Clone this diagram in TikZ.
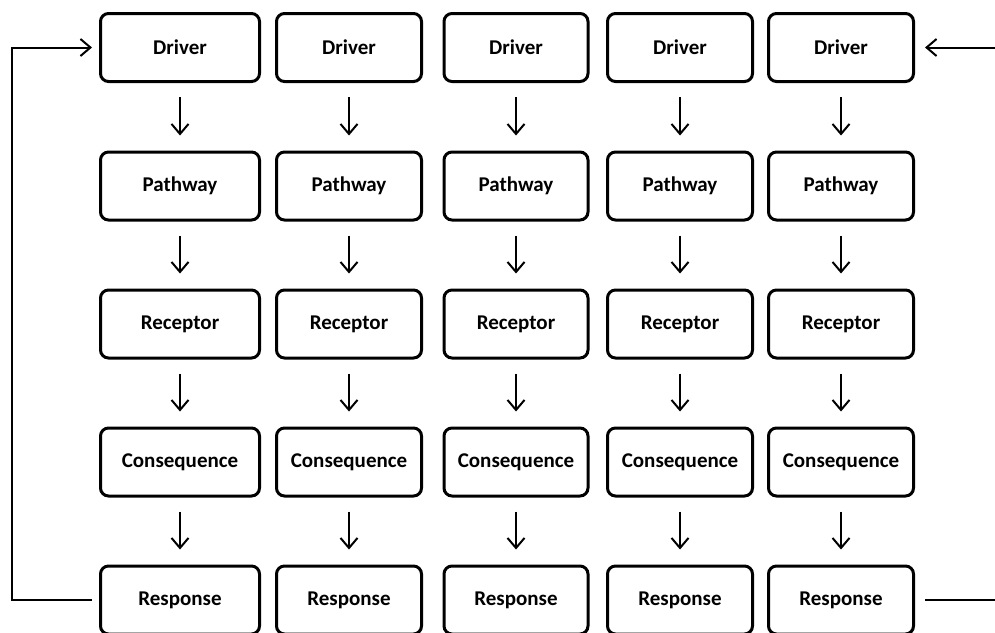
\documentclass[tikz,border=0pt]{standalone}
\usepackage{fontspec}
\setmainfont{Carlito}
\usetikzlibrary{positioning,arrows.meta}
\tikzset{>={Straight Barb[length=10pt,width=17pt]}}
\tikzset{stagebox/.style={draw,line width=3pt,rounded corners=8pt,minimum height=68pt,inner sep=0pt,font=\fontsize{21}{25}\selectfont\bfseries}}
\tikzset{flowarrow/.style={->,line width=2pt,shorten <=14pt,shorten >=15pt}}
\tikzset{loopline/.style={line width=2pt}}

\begin{document}
\begin{tikzpicture}[x=1pt,y=-1pt]
    \useasboundingbox (0,0) rectangle (995,632);
    % five chains, one per column
    \foreach \c/\x/\w in {1/180/159pt,2/349/145pt,3/516/144pt,4/680/145pt,5/841/145pt}{
        \node[stagebox, minimum width=\w] (drv\c) at (\x,47.5) {Driver};
        \node[stagebox, minimum width=\w] (pw\c)  at (\x,186)  {Pathway};
        \node[stagebox, minimum width=\w] (rc\c)  at (\x,324)  {Receptor};
        \node[stagebox, minimum width=\w] (cq\c)  at (\x,462)  {Consequence};
        \node[stagebox, minimum width=\w] (rs\c)  at (\x,600)  {Response};
        \foreach \a/\b in {drv/pw,pw/rc,rc/cq,cq/rs}
            \draw[flowarrow] (\a\c) -- (\b\c);
    }
    % feedback loops
    \coordinate (lb) at (12,600);
    \coordinate (rt) at (995,47.5);
    \coordinate (rb) at (995,600);
    \draw[loopline,->,shorten <=7pt,shorten >=7pt] (rs1.west) -- (lb) |- (drv1.west);
    \draw[loopline,->,shorten >=10pt] (rt) -- (drv5.east);
    \draw[loopline,shorten <=10pt] (rs5.east) -- (rb);
\end{tikzpicture}
\end{document}
